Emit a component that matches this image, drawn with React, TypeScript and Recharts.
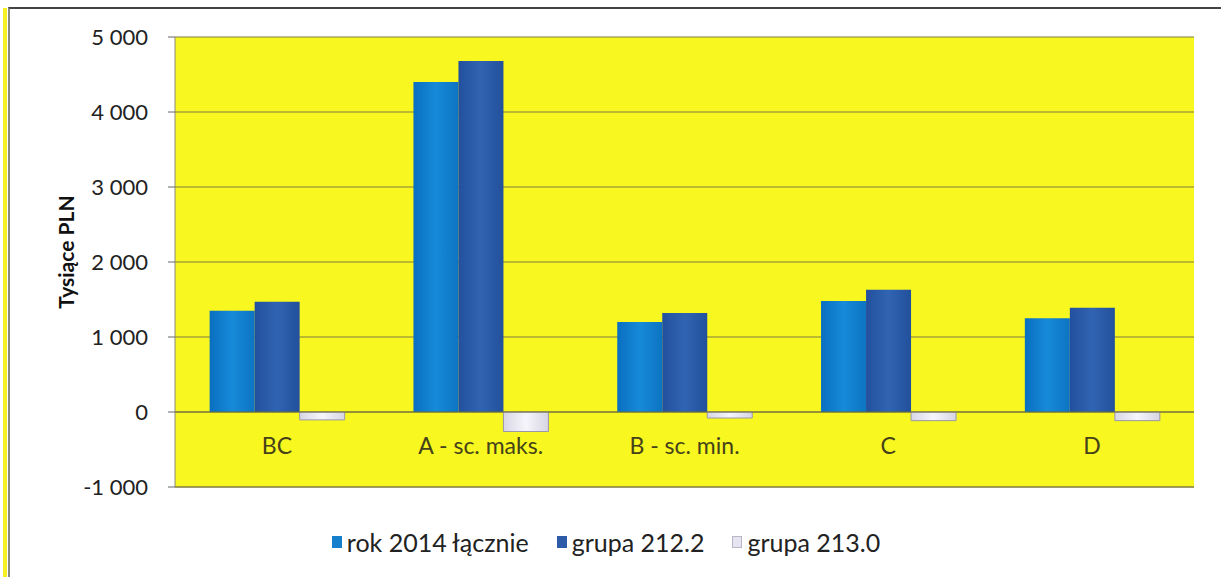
import React from 'react'
import { BarChart, Bar, XAxis, YAxis, CartesianGrid, Legend, ReferenceLine } from 'recharts'

const categories = ['BC', 'A - sc. maks.', 'B - sc. min.', 'C', 'D']
const rok2014 = [1350, 4400, 1200, 1480, 1250]
const grupa2122 = [1470, 4680, 1320, 1630, 1390]
const grupa2130 = [-105, -260, -80, -115, -115]
const yTicks = [-1000, 0, 1000, 2000, 3000, 4000, 5000]

const seriesNames = ['rok 2014 łącznie', 'grupa 212.2', 'grupa 213.0']

const data = categories.map((name, i) => ({
  name,
  rok: rok2014[i],
  g2122: grupa2122[i],
  g2130: grupa2130[i],
}))

const FONT = 'Lato, "Open Sans", sans-serif'

const fmt = (v: number) => {
  const s = Math.abs(v).toString().replace(/\B(?=(\d{3})+(?!\d))/g, ' ')
  return v < 0 ? '-' + s : s
}

// category names sit just under the zero line, not under the plot bottom
const CategoryTick = (props: any) => {
  const { x, y, payload } = props
  return (
    <text x={x} y={y - 41} textAnchor="middle" fill="#45421a" fontSize={23} fontFamily={FONT}>
      {payload.value}
    </text>
  )
}

const legendItems = [
  { label: seriesNames[0], color: '#1780cc', border: '#1780cc' },
  { label: seriesNames[1], color: '#2d5ba8', border: '#2d5ba8' },
  { label: seriesNames[2], color: '#e6e4f0', border: '#b8b6c8' },
]

const LegendContent = () => (
  <div style={{ display: 'flex', justifyContent: 'center', fontFamily: FONT, fontSize: 25, color: '#222', marginLeft: 18 }}>
    {legendItems.map((it) => (
      <div key={it.label} style={{ display: 'flex', alignItems: 'center', margin: '0 14px' }}>
        <span style={{ width: 10, height: 12, background: it.color, border: `1px solid ${it.border}`, marginRight: 5, boxSizing: 'border-box' }} />
        <span>{it.label}</span>
      </div>
    ))}
  </div>
)

function App() {
  return (
    <div style={{ position: 'absolute', left: 0, top: 0, width: 1221, height: 577, background: '#fff' }}>
      {/* outer frame */}
      <div style={{ position: 'absolute', left: 3, top: 8, width: 4, height: 569, background: '#f5f020' }} />
      <div style={{ position: 'absolute', left: 8, top: 7, width: 1213, height: 570, borderTop: '2px solid #444', borderLeft: '2px solid #8a8a80', boxSizing: 'border-box' }} />
      <div style={{ position: 'absolute', left: 0, top: 0 }}>
        <BarChart
          width={1221}
          height={577}
          data={data}
          margin={{ top: 37, right: 27, bottom: 30, left: 0 }}
          barCategoryGap="17%"
          barGap={0}
        >
          <defs>
            <linearGradient id="gRok" x1="0" y1="0" x2="1" y2="0">
              <stop offset="0%" stopColor="#0a6fc0" />
              <stop offset="50%" stopColor="#168ad8" />
              <stop offset="100%" stopColor="#0d74c2" />
            </linearGradient>
            <linearGradient id="g2122" x1="0" y1="0" x2="1" y2="0">
              <stop offset="0%" stopColor="#23509e" />
              <stop offset="50%" stopColor="#3064b2" />
              <stop offset="100%" stopColor="#22509c" />
            </linearGradient>
            <linearGradient id="g2130" x1="0" y1="0" x2="1" y2="0">
              <stop offset="0%" stopColor="#d8d6e4" />
              <stop offset="50%" stopColor="#f6f5fb" />
              <stop offset="100%" stopColor="#d6d4e2" />
            </linearGradient>
          </defs>
          <CartesianGrid vertical={false} fill="#f8f71f" stroke="#7f7c40" strokeOpacity={1} />
          <XAxis
            dataKey="name"
            axisLine={{ stroke: '#7f7c40' }}
            tickLine={false}
            tick={<CategoryTick />}
          />
          <YAxis
            domain={[-1000, 5000]}
            ticks={yTicks}
            width={175}
            tickSize={7}
            tickMargin={20}
            axisLine={{ stroke: '#8a8a7a' }}
            tickLine={{ stroke: '#666' }}
            tick={{ fill: '#222', fontSize: 22, fontFamily: FONT }}
            tickFormatter={fmt}
            label={{
              content: () => (
                <text
                  x={74}
                  y={252}
                  transform="rotate(-90 74 252)"
                  textAnchor="middle"
                  fontSize={21}
                  fontWeight="bold"
                  fontFamily={FONT}
                  fill="#111"
                >
                  Tysiące PLN
                </text>
              ),
            }}
          />
          <ReferenceLine y={0} stroke="#6f6c38" />
          <Bar dataKey="rok" name={seriesNames[0]} fill="url(#gRok)" isAnimationActive={false} />
          <Bar dataKey="g2122" name={seriesNames[1]} fill="url(#g2122)" isAnimationActive={false} />
          <Bar dataKey="g2130" name={seriesNames[2]} fill="url(#g2130)" stroke="#9a98a8" strokeWidth={1} isAnimationActive={false} />
          <Legend verticalAlign="bottom" content={<LegendContent />} wrapperStyle={{ bottom: 20 }} />
        </BarChart>
      </div>
    </div>
  )
}

export default App
